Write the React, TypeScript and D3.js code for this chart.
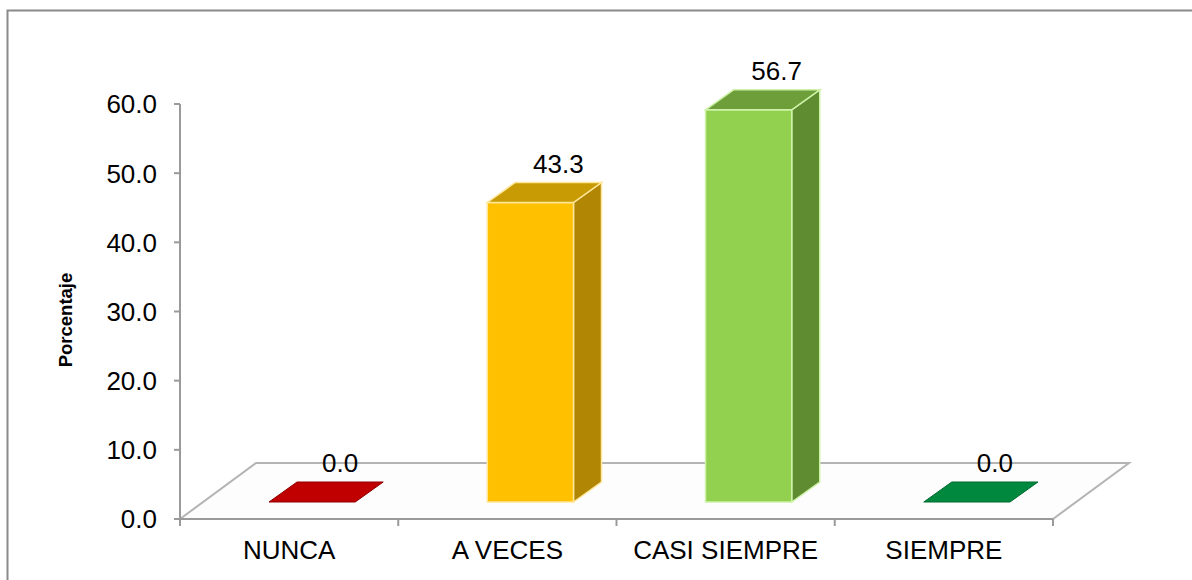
import React, { useRef, useEffect } from "react";
import * as d3 from "d3";

// categories and percentages
const categories = ["NUNCA", "A VECES", "CASI SIEMPRE", "SIEMPRE"];
const values = [0.0, 43.3, 56.7, 0.0];
const yTicks = [0, 10, 20, 30, 40, 50, 60];

const frontColors = ["#C00000", "#FFC000", "#92D050", "#00883E"];
const topColors = ["#C00000", "#C89A04", "#6E9E3A", "#00883E"];
const sideColors = ["#900000", "#B08604", "#5F8C30", "#006A30"];
const edgeColors = ["#E07070", "#FFE699", "#CDF2A8", "#70C090"];

interface BarDatum {
  cat: string;
  value: number;
  i: number;
}

export default function App() {
  const svgRef = useRef<SVGSVGElement>(null);

  const width = 1192;
  const height = 580;
  const font = "'Liberation Sans', Arial, sans-serif";

  const chart = {
    left: 180,
    right: 1053,
    base: 519,
    top: 104,
    floorDx: 76, // depth of the 3D floor
    floorDy: -56,
    frontDx: 23, // where the bars stand inside the floor
    frontDy: -17,
    barDx: 28, // depth of a bar
    barDy: -20
  };

  useEffect(() => {
    const svg = d3.select(svgRef.current);
    svg.selectAll("*").remove();

    const x = d3
      .scaleBand<string>()
      .domain(categories)
      .range([chart.left, chart.right]);

    const y = d3
      .scaleLinear()
      .domain([0, 60])
      .range([chart.base, chart.top]);

    // outer frame
    svg
      .append("rect")
      .attr("x", 7.5)
      .attr("y", 10.5)
      .attr("width", width)
      .attr("height", height)
      .attr("fill", "none")
      .attr("stroke", "#8a8a8a")
      .attr("stroke-width", 2);

    // floor
    const fl = chart.left;
    const fr = chart.right;
    const fb = chart.base;
    const floorPts: [number, number][] = [
      [fl, fb],
      [fl + chart.floorDx, fb + chart.floorDy],
      [fr + chart.floorDx, fb + chart.floorDy],
      [fr, fb]
    ];
    svg
      .append("path")
      .attr("d", d3.line()(floorPts) + "Z")
      .attr("fill", "#fdfdfd")
      .attr("stroke", "#b4b4b4")
      .attr("stroke-width", 2);

    // axes
    const axisColor = "#9a9a9a";
    svg
      .append("line")
      .attr("x1", chart.left)
      .attr("x2", chart.left)
      .attr("y1", y(60))
      .attr("y2", y(0))
      .attr("stroke", axisColor)
      .attr("stroke-width", 2);

    svg
      .append("line")
      .attr("x1", chart.left)
      .attr("x2", chart.right)
      .attr("y1", y(0))
      .attr("y2", y(0))
      .attr("stroke", axisColor)
      .attr("stroke-width", 2);

    svg
      .selectAll(".y-tick")
      .data(yTicks)
      .enter()
      .append("line")
      .attr("class", "y-tick")
      .attr("x1", chart.left - 6)
      .attr("x2", chart.left)
      .attr("y1", (d: number) => y(d))
      .attr("y2", (d: number) => y(d))
      .attr("stroke", axisColor)
      .attr("stroke-width", 2);

    svg
      .selectAll(".y-label")
      .data(yTicks)
      .enter()
      .append("text")
      .attr("class", "y-label")
      .attr("x", 157)
      .attr("y", (d: number) => y(d))
      .attr("dy", "0.36em")
      .attr("text-anchor", "end")
      .attr("font-family", font)
      .attr("font-size", 26)
      .attr("fill", "#000")
      .text((d: number) => d.toFixed(1));

    const xTickPos = categories.map(c => x(c) as number).concat([chart.right]);
    svg
      .selectAll(".x-tick")
      .data(xTickPos)
      .enter()
      .append("line")
      .attr("class", "x-tick")
      .attr("x1", (d: number) => d)
      .attr("x2", (d: number) => d)
      .attr("y1", chart.base)
      .attr("y2", chart.base + 7)
      .attr("stroke", axisColor)
      .attr("stroke-width", 2);

    svg
      .selectAll(".x-label")
      .data(categories)
      .enter()
      .append("text")
      .attr("class", "x-label")
      .attr("x", (d: string) => (x(d) as number) + x.bandwidth() / 2)
      .attr("y", 559)
      .attr("text-anchor", "middle")
      .attr("font-family", font)
      .attr("font-size", 26)
      .attr("fill", "#000")
      .text((d: string) => d);

    // axis title
    svg
      .append("text")
      .attr("transform", "translate(72,320) rotate(-90)")
      .attr("text-anchor", "middle")
      .attr("font-family", font)
      .attr("font-size", 18.5)
      .attr("font-weight", "bold")
      .attr("fill", "#000")
      .text("Porcentaje");

    // 3D bars
    const data: BarDatum[] = categories.map((c, i) => ({
      cat: c,
      value: values[i],
      i
    }));
    const barW = x.bandwidth() * 0.395;

    const bars = svg
      .selectAll(".bar")
      .data(data)
      .enter()
      .append("g")
      .attr("class", "bar");

    bars.each(function(d: BarDatum) {
      const g = d3.select(this);
      const cx = (x(d.cat) as number) + x.bandwidth() / 2 + chart.frontDx;
      const x0 = cx - barW / 2;
      const x1 = cx + barW / 2;
      const yb = y(0) + chart.frontDy;
      const yt = y(d.value) + chart.frontDy;
      const dx = chart.barDx;
      const dy = chart.barDy;
      const edge = edgeColors[d.i];

      const topFace: [number, number][] = [
        [x0, yt],
        [x0 + dx, yt + dy],
        [x1 + dx, yt + dy],
        [x1, yt]
      ];

      if (d.value > 0) {
        g.append("path")
          .attr(
            "d",
            d3.line()([
              [x1, yb],
              [x1 + dx, yb + dy],
              [x1 + dx, yt + dy],
              [x1, yt]
            ]) + "Z"
          )
          .attr("fill", sideColors[d.i])
          .attr("stroke", edge)
          .attr("stroke-width", 1.5);

        g.append("rect")
          .attr("x", x0)
          .attr("y", yt)
          .attr("width", barW)
          .attr("height", yb - yt)
          .attr("fill", frontColors[d.i])
          .attr("stroke", edge)
          .attr("stroke-width", 1.5);

        g.append("path")
          .attr("d", d3.line()(topFace) + "Z")
          .attr("fill", topColors[d.i])
          .attr("stroke", edge)
          .attr("stroke-width", 1.5);
      } else {
        g.append("path")
          .attr("d", d3.line()(topFace) + "Z")
          .attr("fill", topColors[d.i])
          .attr("stroke", sideColors[d.i])
          .attr("stroke-width", 1);
      }

      g.append("text")
        .attr("x", cx + dx)
        .attr("y", yt + dy - 10)
        .attr("text-anchor", "middle")
        .attr("font-family", font)
        .attr("font-size", 26)
        .attr("fill", "#000")
        .text(d.value.toFixed(1));
    });
  }, []);

  return (
    <svg
      ref={svgRef}
      width={width}
      height={height}
      style={{ position: "absolute", left: 0, top: 0, background: "#fff" }}
    />
  );
}
